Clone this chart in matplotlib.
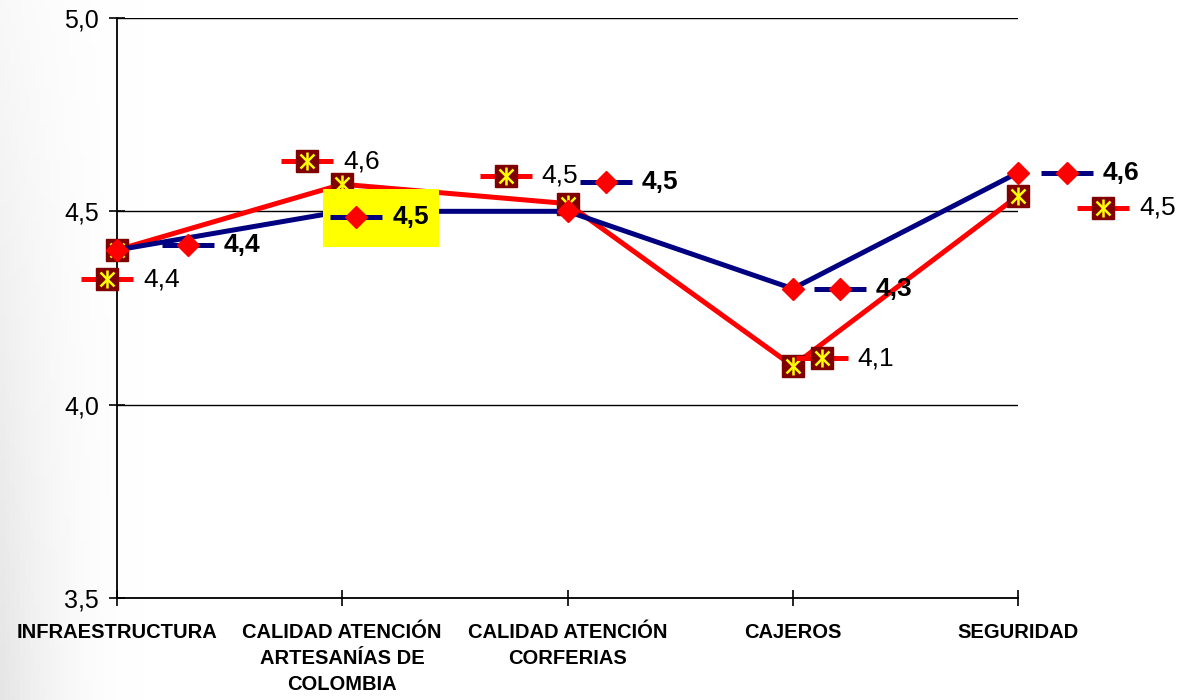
import numpy as np
import matplotlib.pyplot as plt
from matplotlib.patches import Rectangle
from matplotlib.transforms import offset_copy, IdentityTransform, ScaledTranslation

plt.rcParams['font.family'] = ['Liberation Sans', 'DejaVu Sans']

# datos
categorias = ['INFRAESTRUCTURA', 'CALIDAD ATENCIÓN\nARTESANÍAS DE\nCOLOMBIA',
              'CALIDAD ATENCIÓN\nCORFERIAS', 'CAJEROS', 'SEGURIDAD']
serie_azul = [4.4, 4.5, 4.5, 4.3, 4.6]
serie_roja = [4.4, 4.57, 4.52, 4.1, 4.54]
etiq_azul = ['4,4', '4,5', '4,5', '4,3', '4,6']
etiq_roja = ['4,4', '4,6', '4,5', '4,1', '4,5']
yticks = [3.5, 4.0, 4.5, 5.0]
ytick_labels = ['3,5', '4,0', '4,5', '5,0']

# posicion de las etiquetas respecto al punto (pixeles, y hacia arriba)
off_azul = [(71, 5), (14, -6), (38, 29), (47, 0), (49, 0)]
off_roja = [(-10, -29), (-35, 23), (-62, 28), (29, 8), (85, -12)]
resaltada = 1  # etiqueta azul con fondo amarillo

AZUL = '#000080'
ROJO = '#FF0000'
GRANATE = '#800000'
AMARILLO = '#FFFF00'

fig = plt.figure(figsize=(11.84, 7), dpi=100)

# fondo con un leve degradado gris a la izquierda
bg = fig.add_axes([0, 0, 1, 1], zorder=-10)
H, W = 140, 237
xx = np.linspace(0, 1, W)[None, :]
yy = np.linspace(0, 1, H)[:, None]
sombra = np.clip(1 - xx / 0.12, 0, 1) ** 2 * (0.25 + 0.75 * yy)
img = np.ones((H, W, 3)) - 0.1 * sombra[:, :, None]
bg.imshow(img, aspect='auto', extent=[0, 1, 0, 1], origin='upper')
bg.axis('off')

ax = fig.add_axes([117 / 1184, 1 - 598 / 700, 901 / 1184, 580 / 700])
ax.patch.set_alpha(0)
x = np.arange(len(categorias))


def cuadro(xs, ys, tr, z):
    ax.plot(xs, ys, ls='none', marker='s', ms=15.5, mfc=GRANATE, mec=GRANATE,
            transform=tr, zorder=z, clip_on=False)
    ax.plot(xs, ys, ls='none', marker='x', ms=9.5, mew=1.8, color=AMARILLO,
            transform=tr, zorder=z + 0.1, clip_on=False)
    ax.plot(xs, ys, ls='none', marker='|', ms=13, mew=1.8, color=AMARILLO,
            transform=tr, zorder=z + 0.1, clip_on=False)


def rombo(xs, ys, tr, z):
    ax.plot(xs, ys, ls='none', marker='D', ms=11, mfc=ROJO, mec=ROJO,
            transform=tr, zorder=z, clip_on=False)


# serie roja
ax.plot(x, serie_roja, color=ROJO, lw=3.6, zorder=3, clip_on=False)
cuadro(x, serie_roja, ax.transData, 4)
# serie azul
ax.plot(x, serie_azul, color=AZUL, lw=3.6, zorder=5, clip_on=False)
rombo(x, serie_azul, ax.transData, 6)

# etiquetas de datos con clave de leyenda
for i in range(len(categorias)):
    dx, dy = off_roja[i]
    tr = offset_copy(ax.transData, fig=fig, x=dx, y=dy, units='dots')
    ax.plot([x[i]], [serie_roja[i]], ls='none', marker='_', ms=38, mew=3.6,
            color=ROJO, transform=tr, zorder=7, clip_on=False)
    cuadro([x[i]], [serie_roja[i]], tr, 7.5)
    trt = offset_copy(ax.transData, fig=fig, x=dx + 36, y=dy, units='dots')
    ax.text(x[i], serie_roja[i], etiq_roja[i], transform=trt, fontsize=19,
            ha='left', va='center', zorder=8, clip_on=False)

    dx, dy = off_azul[i]
    if i == resaltada:
        # caja en pixeles anclada al punto
        trb = IdentityTransform() + ScaledTranslation(x[i], serie_azul[i], ax.transData)
        ax.add_patch(Rectangle((dx - 33, dy - 30), 116, 58, transform=trb,
                               facecolor=AMARILLO, edgecolor='none',
                               zorder=8.5, clip_on=False))
    tr = offset_copy(ax.transData, fig=fig, x=dx, y=dy, units='dots')
    ax.plot([x[i]], [serie_azul[i]], ls='none', marker='_', ms=38, mew=3.6,
            color=AZUL, transform=tr, zorder=9, clip_on=False)
    rombo([x[i]], [serie_azul[i]], tr, 9.5)
    trt = offset_copy(ax.transData, fig=fig, x=dx + 36, y=dy, units='dots')
    ax.text(x[i], serie_azul[i], etiq_azul[i], transform=trt, fontsize=19,
            fontweight='bold', ha='left', va='center', zorder=10, clip_on=False)

ax.set_xlim(0, 4)
ax.set_ylim(3.5, 5.0)
ax.set_yticks(yticks)
ax.set_yticklabels(ytick_labels, fontsize=18)
ax.set_xticks(x)
ax.set_xticklabels(categorias, fontsize=14.5, fontweight='bold', linespacing=1.45)
ax.yaxis.grid(True, color='black', lw=1.0)
ax.set_axisbelow(True)
ax.tick_params(direction='inout', length=12, width=1.2, color='black')
ax.tick_params(axis='y', pad=7)
ax.tick_params(axis='x', pad=12)
for s in ['top', 'right']:
    ax.spines[s].set_visible(False)
for s in ['left', 'bottom']:
    ax.spines[s].set_linewidth(1.3)

fig.savefig('out.png', dpi=100)
